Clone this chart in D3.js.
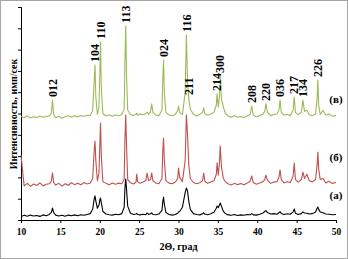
<!DOCTYPE html>
<html>
<head>
<meta charset="utf-8">
<script src="https://cdn.jsdelivr.net/npm/d3@7"></script>
<style>
  body { margin: 0; background: #fff; }
  text { font-family: "Liberation Serif", "Times New Roman", serif; font-weight: bold; }
</style>
</head>
<body>
<div id="chart"></div>
<script>
// 2theta grid shared by the three patterns
var two_theta = [
  10.0, 10.4, 10.8, 11.2, 11.6, 12.0, 12.4, 12.8, 13.2, 13.6,
  13.85, 14.0, 14.15, 14.4, 14.8, 15.2, 15.6, 16.0, 16.4, 16.8,
  17.2, 17.6, 18.0, 18.4, 18.8, 19.1, 19.3, 19.4, 19.5, 19.7,
  19.9, 20.05, 20.1, 20.2, 20.4, 20.8, 21.2, 21.6, 22.0, 22.4,
  22.8, 23.1, 23.2, 23.3, 23.4, 23.55, 23.9, 24.3, 24.6, 24.7,
  24.8, 25.1, 25.5, 25.85, 26.0, 26.2, 26.45, 26.6, 26.75, 27.1,
  27.5, 27.9, 28.0, 28.1, 28.2, 28.4, 28.8, 29.2, 29.6, 29.9,
  30.0, 30.15, 30.5, 30.85, 31.0, 31.15, 31.3, 31.5, 31.9, 32.3,
  32.7, 33.05, 33.2, 33.35, 33.7, 34.1, 34.5, 34.8, 34.9, 35.05,
  35.2, 35.3, 35.45, 35.7, 35.95, 36.3, 36.7, 37.1, 37.5, 37.9,
  38.3, 38.7, 39.1, 39.3, 39.5, 39.9, 40.3, 40.7, 40.95, 41.1,
  41.3, 41.7, 42.1, 42.5, 42.75, 42.9, 43.05, 43.4, 43.8, 44.2,
  44.55, 44.7, 44.85, 45.2, 45.6, 45.8, 46.0, 46.3, 46.6, 47.0,
  47.4, 47.6, 47.7, 47.8, 48.0, 48.35, 48.7, 49.1, 49.5, 50.0
];

// (а) black
var series_a = [
  1.6, 2.2, 1.8, 2.3, 1.9, 2.1, 1.7, 2.4, 2.0, 2.6,
  3.6, 5.6, 3.4, 2.3, 1.9, 2.2, 1.8, 2.3, 2.0, 2.4,
  2.0, 2.5, 2.2, 2.6, 3.0, 5.0, 10.0, 11.3, 9.0, 5.5,
  7.0, 10.0, 10.3, 8.0, 4.0, 2.8, 2.5, 2.3, 2.7, 2.5,
  3.0, 6.0, 15.0, 19.2, 14.5, 6.5, 3.2, 2.6, 2.8, 3.1,
  2.6, 2.4, 2.7, 2.5, 3.3, 2.6, 2.9, 3.4, 2.6, 2.5,
  2.8, 4.5, 8.5, 10.8, 7.5, 3.5, 2.6, 2.3, 2.6, 3.2,
  3.8, 4.0, 6.0, 13.0, 15.0, 13.5, 9.0, 5.0, 3.0, 2.6,
  2.4, 2.9, 3.4, 2.8, 2.5, 2.9, 3.6, 5.5, 6.6, 5.8,
  7.0, 8.0, 6.5, 4.0, 3.0, 2.4, 2.2, 2.6, 2.1, 2.4,
  2.2, 2.6, 2.5, 3.0, 2.4, 2.3, 2.7, 3.2, 4.0, 4.4,
  3.5, 2.8, 3.0, 2.7, 3.4, 3.9, 3.1, 2.6, 2.9, 2.7,
  3.8, 5.2, 3.2, 2.6, 3.0, 3.8, 3.3, 3.2, 2.8, 3.0,
  3.8, 5.5, 6.1, 5.0, 3.8, 3.4, 2.8, 2.7, 2.5, 2.6
];

// (б) red
var series_b = [
  30.5, 16.0, 17.2, 15.8, 16.9, 16.2, 17.4, 16.0, 16.8, 17.0,
  18.2, 22.1, 17.6, 16.4, 17.2, 15.9, 17.0, 16.3, 17.5, 16.6,
  17.3, 16.5, 17.6, 16.9, 17.4, 19.5, 33.0, 37.1, 28.0, 18.5,
  22.0, 40.0, 45.5, 30.0, 18.0, 17.2, 16.6, 17.4, 16.8, 17.3,
  17.0, 19.0, 38.0, 49.3, 35.0, 19.0, 17.5, 16.9, 17.8, 21.6,
  18.0, 17.2, 17.8, 18.5, 22.0, 18.6, 19.0, 22.0, 18.4, 17.4,
  17.0, 19.5, 32.0, 38.5, 28.0, 18.5, 17.3, 17.0, 17.8, 19.5,
  24.4, 20.0, 18.0, 28.0, 49.3, 40.0, 26.0, 19.5, 17.6, 17.0,
  17.5, 18.5, 22.0, 18.2, 17.2, 17.8, 18.4, 21.5, 26.8, 21.0,
  27.0, 34.7, 25.0, 19.5, 18.0, 17.0, 16.4, 17.2, 16.6, 17.1,
  16.5, 17.3, 18.2, 20.7, 17.6, 16.8, 17.4, 17.9, 19.0, 21.0,
  18.6, 17.2, 17.8, 18.0, 20.0, 23.5, 19.0, 17.4, 18.0, 17.6,
  20.5, 26.8, 19.0, 17.8, 19.0, 22.5, 19.5, 21.5, 18.4, 17.9,
  19.0, 26.0, 31.9, 24.0, 19.0, 19.5, 17.4, 18.2, 17.2, 17.6
];

// (в) green
var series_c = [
  48.6, 48.0, 48.9, 47.9, 48.5, 48.1, 48.8, 48.2, 48.6, 48.9,
  50.0, 56.3, 49.5, 48.0, 48.7, 47.8, 48.5, 48.9, 48.2, 49.0,
  48.4, 49.1, 48.6, 49.2, 49.0, 51.5, 66.0, 72.8, 58.0, 49.5,
  53.0, 75.0, 83.6, 62.0, 50.0, 48.8, 49.4, 48.7, 49.3, 48.9,
  49.5, 52.0, 75.0, 91.1, 68.0, 51.5, 49.5, 49.0, 49.6, 50.2,
  49.2, 49.8, 49.4, 50.0, 50.6, 49.5, 51.0, 54.5, 50.5, 49.3,
  49.0, 51.5, 66.0, 75.1, 60.0, 50.5, 49.3, 48.9, 49.6, 51.5,
  53.5, 50.5, 49.5, 60.0, 86.9, 65.0, 57.3, 52.0, 49.6, 48.8,
  49.5, 50.5, 52.6, 50.0, 49.2, 49.8, 50.5, 54.0, 59.2, 53.0,
  58.0, 67.6, 57.0, 53.0, 50.0, 48.8, 48.3, 48.9, 48.2, 48.6,
  48.1, 48.8, 49.5, 53.5, 49.3, 48.5, 49.0, 49.6, 51.0, 54.5,
  50.5, 49.0, 49.5, 49.8, 51.5, 56.3, 50.5, 49.2, 49.6, 49.0,
  51.5, 57.7, 50.5, 49.5, 50.5, 56.3, 51.0, 51.5, 49.4, 49.0,
  49.8, 57.0, 65.7, 54.0, 49.5, 51.5, 49.2, 49.8, 48.7, 49.0
];

// Miller indices over the green pattern
var peak_labels = ['012', '104', '110', '113', '024', '116', '211', '214', '300',
  '208', '220', '036', '217', '134', '226'];
var peak_positions = [14.0, 19.4, 20.1, 23.3, 28.1, 31.0, 31.3, 34.9, 35.3,
  39.3, 41.1, 42.9, 44.7, 45.8, 47.7];

var series_names = ['(а)', '(б)', '(в)'];
var series_colors = ['#000000', '#c0504d', '#9bbb59'];
var x_ticks = [10, 15, 20, 25, 30, 35, 40, 45, 50];

var chart_width = 348;
var chart_height = 259;
var margin = { left: 21, right: 12, top: 7, bottom: 39 };

var svg = d3.select('#chart')
  .append('svg')
  .attr('width', chart_width)
  .attr('height', chart_height);

// grey frame
svg.append('rect')
  .attr('x', 0.5)
  .attr('y', 0.5)
  .attr('width', chart_width - 1)
  .attr('height', chart_height - 1)
  .attr('fill', '#fff')
  .attr('stroke', '#a6a6a6');

var x_scale = d3.scaleLinear()
  .domain([10, 50])
  .range([margin.left, chart_width - margin.right]);

var y_scale = d3.scaleLinear()
  .domain([0, 100])
  .range([chart_height - margin.bottom, margin.top]);

// axes
var x_axis = d3.axisBottom(x_scale)
  .tickValues(x_ticks)
  .tickSize(3)
  .tickPadding(5);
var gx = svg.append('g')
  .attr('class', 'x-axis')
  .attr('transform', 'translate(0,' + (chart_height - margin.bottom) + ')')
  .call(x_axis);
gx.selectAll('text')
  .attr('font-family', '"Liberation Serif", serif')
  .attr('font-weight', 'bold')
  .attr('font-size', 9.5)
  .attr('fill', '#000');

var y_axis = d3.axisLeft(y_scale)
  .ticks(10)
  .tickSize(3)
  .tickFormat('');
svg.append('g')
  .attr('class', 'y-axis')
  .attr('transform', 'translate(' + margin.left + ',0)')
  .call(y_axis);

svg.selectAll('.domain').attr('stroke', '#000');
svg.selectAll('.tick line').attr('stroke', '#000');

// patterns
var all_series = [series_a, series_b, series_c];
var line = d3.line()
  .x(function(d) { return x_scale(d[0]); })
  .y(function(d) { return y_scale(d[1]); });

all_series.forEach(function(values, i) {
  var pts = two_theta.map(function(t, j) { return [t, values[j]]; });
  svg.append('path')
    .datum(pts)
    .attr('d', line)
    .attr('fill', 'none')
    .attr('stroke', series_colors[i])
    .attr('stroke-width', 1.1)
    .attr('stroke-linejoin', 'round');
});

// hkl labels
svg.append('g')
  .selectAll('text')
  .data(peak_labels)
  .enter()
  .append('text')
  .text(function(d) { return d; })
  .attr('font-size', 12)
  .attr('text-anchor', 'start')
  .attr('dy', '0.35em')
  .attr('transform', function(d, i) {
    var idx = two_theta.indexOf(peak_positions[i]);
    var px = x_scale(peak_positions[i]);
    var py = y_scale(series_c[idx]) - 3;
    return 'translate(' + px + ',' + py + ') rotate(-90)';
  });

// series labels at the right end
var label_offsets = [9, 12, 8];
svg.append('g')
  .selectAll('text')
  .data(series_names)
  .enter()
  .append('text')
  .text(function(d) { return d; })
  .attr('font-size', 11)
  .attr('text-anchor', 'middle')
  .attr('x', x_scale(50))
  .attr('y', function(d, i) {
    return y_scale(all_series[i][all_series[i].length - 1] + label_offsets[i]) + 4;
  });

// axis titles
svg.append('text')
  .attr('x', (x_scale(10) + x_scale(50)) / 2)
  .attr('y', 250)
  .attr('text-anchor', 'middle')
  .attr('font-size', 10)
  .text('2Θ, град');

svg.append('text')
  .attr('transform', 'translate(17,' + 114 + ') rotate(-90)')
  .attr('text-anchor', 'middle')
  .attr('font-size', 10)
  .text('Интенсивность, имп/сек');
</script>
</body>
</html>
